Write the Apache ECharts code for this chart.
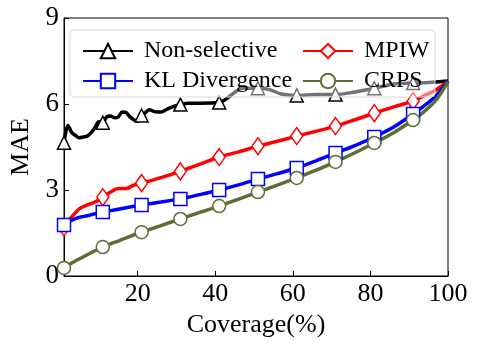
<!DOCTYPE html>
<html>
<head>
<meta charset="utf-8">
<script src="https://cdn.jsdelivr.net/npm/echarts@6/dist/echarts.min.js"></script>
<style>
  html, body { margin: 0; padding: 0; background: #fff; }
  #main { width: 478px; height: 347px; }
</style>
</head>
<body>
<div id="main"></div>
<script>
    // coverage (%) and MAE values
    var nsX = [1, 2, 3, 4, 5, 6, 7, 8, 9, 10, 11, 12, 13, 14, 15, 16, 17, 18, 19, 20, 21, 22, 23, 24, 25, 26, 27, 28, 29, 30, 31, 33, 36, 41, 44, 47, 51, 54, 57, 61, 66, 71, 76, 81, 86, 91, 95, 100];
    var nsY = [4.65, 5.25, 5.0, 4.9, 4.82, 4.85, 4.88, 5.0, 5.18, 5.38, 5.35, 5.55, 5.58, 5.52, 5.55, 5.72, 5.7, 5.55, 5.45, 5.4, 5.6, 5.7, 5.8, 5.75, 5.72, 5.72, 5.78, 5.85, 5.9, 5.95, 5.98, 6.03, 6.03, 6.05, 6.3, 6.55, 6.55, 6.5, 6.35, 6.3, 6.33, 6.33, 6.42, 6.55, 6.7, 6.73, 6.75, 6.8];

    var covX = [1, 3, 5, 7, 9, 11, 13, 15, 17, 19, 21, 26, 31, 36, 41, 46, 51, 56, 61, 66, 71, 76, 81, 86, 91, 94, 97, 100];
    var mpiwY = [1.7, 2.06, 2.35, 2.48, 2.58, 2.75, 2.93, 3.05, 3.05, 3.17, 3.24, 3.43, 3.65, 3.9, 4.15, 4.33, 4.53, 4.7, 4.88, 5.05, 5.23, 5.45, 5.68, 5.9, 6.1, 6.3, 6.5, 6.8];
    var klY = [1.78, 1.95, 2.05, 2.1, 2.17, 2.23, 2.28, 2.33, 2.38, 2.43, 2.48, 2.58, 2.69, 2.84, 3.0, 3.18, 3.38, 3.57, 3.77, 4.02, 4.29, 4.55, 4.85, 5.2, 5.65, 5.95, 6.3, 6.8];
    var crpsY = [0.28, 0.45, 0.6, 0.74, 0.88, 1.01, 1.12, 1.22, 1.33, 1.43, 1.53, 1.76, 1.99, 2.22, 2.44, 2.68, 2.93, 3.17, 3.42, 3.69, 3.98, 4.3, 4.64, 5.0, 5.44, 5.75, 6.15, 6.77];

    var markerX = [1, 11, 21, 31, 41, 51, 61, 71, 81, 91];
    var xTicks = [20, 40, 60, 80, 100];

    var font = 'Liberation Serif';

    // only every 10th point gets a marker
    function build(xs, ys) {
        var out = [];
        for (var i = 0; i < xs.length; i++) {
            var item = {value: [xs[i], ys[i]]};
            if (markerX.indexOf(xs[i]) < 0) item.symbol = 'none';
            out.push(item);
        }
        return out;
    }

    function line(name, xs, ys, color, symbol, size) {
        return {
            name: name,
            type: 'line',
            data: build(xs, ys),
            smooth: 0.3,
            symbol: symbol,
            symbolSize: size,
            showAllSymbol: true,
            z: 2,
            lineStyle: {color: color, width: 3.5},
            itemStyle: {color: '#fff', borderColor: color, borderWidth: 1.5},
            emphasis: {disabled: true}
        };
    }

    var legendText = {fontFamily: font, fontSize: 24, color: '#000', padding: [0, 0, 0, 6]};

    var myChart = echarts.init(document.getElementById('main'));
    var option = {
        animation: false,
        grid: {left: 58, right: 30, top: 18, bottom: 71, show: true, borderColor: '#000', borderWidth: 1},
        xAxis: {
            type: 'value',
            min: 1,
            max: 100,
            name: 'Coverage(%)',
            nameLocation: 'middle',
            nameGap: 34,
            nameTextStyle: {fontFamily: font, fontSize: 26, color: '#000'},
            axisLine: {lineStyle: {color: '#000'}},
            axisTick: {inside: true, length: 5, customValues: xTicks, lineStyle: {color: '#000'}},
            axisLabel: {customValues: xTicks, fontFamily: font, fontSize: 26, color: '#000', margin: 5},
            splitLine: {show: false}
        },
        yAxis: {
            type: 'value',
            min: 0,
            max: 9,
            interval: 3,
            name: 'MAE',
            nameLocation: 'middle',
            nameGap: 30,
            nameTextStyle: {fontFamily: font, fontSize: 26, color: '#000'},
            axisLine: {show: true, lineStyle: {color: '#000'}},
            axisTick: {show: true, inside: true, length: 5, lineStyle: {color: '#000'}},
            axisLabel: {fontFamily: font, fontSize: 27, color: '#000', margin: 5},
            splitLine: {show: false}
        },
        graphic: [{
            type: 'rect',
            z: 10,
            shape: {x: 70, y: 30, width: 365, height: 67, r: 4},
            style: {fill: 'rgba(255,255,255,0.45)', stroke: '#d8d8d8', lineWidth: 1}
        }],
        legend: [{
            z: 20,
            orient: 'vertical',
            left: 77,
            top: 34,
            itemGap: 6,
            itemWidth: 50,
            itemHeight: 18,
            data: ['Non-selective', 'KL Divergence'],
            textStyle: legendText
        }, {
            z: 20,
            orient: 'vertical',
            left: 297,
            top: 34,
            itemGap: 6,
            itemWidth: 50,
            itemHeight: 18,
            data: ['MPIW', 'CRPS'],
            textStyle: legendText
        }],
        series: [
            line('Non-selective', nsX, nsY, '#000000', 'triangle', 13),
            line('MPIW', covX, mpiwY, '#ff0000', 'diamond', [12, 17]),
            line('KL Divergence', covX, klY, '#0000ff', 'rect', 13),
            line('CRPS', covX, crpsY, '#5b6f34', 'circle', 13)
        ]
    };
    myChart.setOption(option);
</script>
</body>
</html>
